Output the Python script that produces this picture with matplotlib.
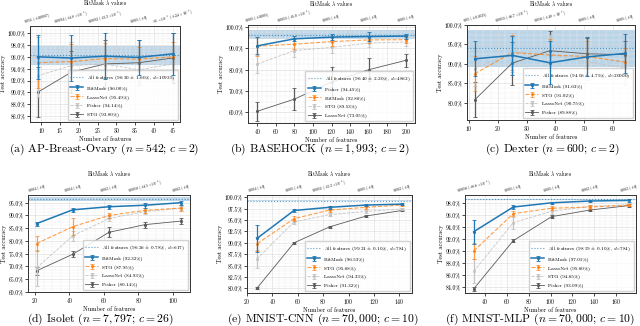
import numpy as np
import matplotlib
matplotlib.use('Agg')
import matplotlib.pyplot as plt
from matplotlib.ticker import PercentFormatter, AutoMinorLocator, MultipleLocator

plt.rcParams['font.family'] = ['cmr10', 'DejaVu Serif']
plt.rcParams['mathtext.fontset'] = 'cm'
plt.rcParams['axes.formatter.use_mathtext'] = True
plt.rcParams['axes.edgecolor'] = '#333333'
plt.rcParams['axes.linewidth'] = 0.6
plt.rcParams['xtick.major.width'] = 0.5
plt.rcParams['ytick.major.width'] = 0.5
plt.rcParams['xtick.major.size'] = 2
plt.rcParams['ytick.major.size'] = 2

#%% data, methods listed in legend order (best first)

a_feats = [9, 18, 27, 36, 45]
a_names = ['BitMask', 'LassoNet', 'Fisher', 'STG']
a_avg = [96.00, 95.49, 94.14, 93.80]
a_mean = [[96.0, 95.8, 96.1, 95.9, 96.5],
          [95.0, 95.2, 95.7, 95.6, 96.0],
          [92.8, 94.5, 94.8, 93.8, 94.8],
          [90.0, 93.4, 94.8, 95.0, 95.8]]
a_err = [[3.7, 3.8, 3.9, 3.0, 3.5],
         [4.3, 3.0, 2.7, 2.0, 2.5],
         [3.5, 4.0, 3.0, 2.5, 2.2],
         [4.2, 3.5, 4.0, 3.8, 4.3]]
a_all = (96.30, 1.60, 10935)
a_lambda = [r'0.051 ($\pm$0.0087)', r'0.0094 ($\pm 4.8\times10^{-3}$)',
            r'0.0092 ($\pm 3.3\times10^{-3}$)', r'0.005 ($\pm$0)',
            r'$8.1\times10^{-3}$ ($\pm 2.4\times10^{-3}$)']

b_feats = [40, 80, 120, 160, 200]
b_names = ['Fisher', 'BitMask', 'STG', 'LassoNet']
b_avg = [94.45, 92.86, 89.53, 73.05]
b_mean = [[91.2, 94.5, 95.3, 95.6, 95.8],
          [91.0, 92.0, 93.2, 94.0, 94.1],
          [82.7, 89.0, 90.5, 92.5, 93.0],
          [60.5, 66.2, 74.2, 80.0, 84.4]]
b_err = [[4.0, 1.2, 1.5, 2.0, 1.2],
         [4.5, 2.5, 2.0, 1.5, 1.5],
         [4.0, 3.0, 2.5, 2.0, 2.0],
         [4.5, 5.0, 7.0, 5.5, 3.0]]
b_all = (96.40, 2.20, 4862)
b_lambda = [r'0.005 ($\pm$0.005)', r'0.0055 ($\pm 5.0\times10^{-4}$)',
            r'0.005 ($\pm$0)', r'0.005 ($\pm$0)', r'0.005 ($\pm$0)']

c_feats = [12, 25, 38, 51, 64]
c_names = ['BitMask', 'STG', 'LassoNet', 'Fisher']
c_avg = [91.63, 91.02, 90.75, 89.88]
c_mean = [[91.3, 92.2, 90.3, 91.8, 92.7],
          [87.5, 92.9, 92.3, 91.9, 90.5],
          [88.8, 93.0, 92.5, 90.5, 89.0],
          [80.8, 90.2, 93.4, 92.6, 92.4]]
c_err = [[4.5, 5.0, 5.5, 5.0, 5.0],
         [4.5, 4.5, 4.0, 4.0, 3.5],
         [4.5, 5.0, 5.0, 4.5, 4.5],
         [4.5, 5.5, 5.0, 4.0, 3.5]]
c_all = (94.06, 4.75, 20000)
c_lambda = [r'0.05 ($\pm$0.0035)', r'0.0055 ($\pm 6.7\times10^{-4}$)',
            r'0.056 ($\pm 4.8\times10^{-3}$)', r'0.005 ($\pm$0)', r'0.005 ($\pm$0)']

d_feats = [21, 42, 63, 84, 105]
d_names = ['BitMask', 'STG', 'LassoNet', 'Fisher']
d_avg = [92.32, 87.95, 84.93, 80.14]
d_mean = [[86.8, 92.2, 93.4, 94.0, 95.0],
          [79.0, 85.6, 90.0, 92.0, 92.9],
          [69.5, 82.0, 88.8, 91.5, 92.8],
          [68.3, 74.8, 83.4, 86.4, 87.8]]
d_err = [[0.8, 0.8, 0.8, 1.0, 0.8],
         [3.0, 3.2, 1.0, 1.0, 1.0],
         [7.0, 2.0, 1.0, 0.8, 0.8],
         [1.5, 1.2, 2.0, 1.2, 1.0]]
d_all = (96.26, 0.78, 617)
d_lambda = [r'0.004 ($\pm$0)', r'0.004 ($\pm$0)', r'0.002 ($\pm$0)',
            r'0.0058 ($\pm 4.5\times10^{-4}$)', r'0.002 ($\pm$0)']

e_feats = [28, 57, 85, 114, 142]
e_names = ['BitMask', 'STG', 'LassoNet', 'Fisher']
e_avg = [96.53, 95.68, 94.33, 91.32]
e_mean = [[91.0, 97.1, 97.8, 98.3, 98.5],
          [89.8, 95.3, 97.2, 97.8, 98.3],
          [86.5, 94.6, 96.2, 96.9, 97.45],
          [80.1, 90.0, 93.5, 95.9, 97.1]]
e_err = [[3.0, 0.3, 0.3, 0.2, 0.2],
         [1.5, 0.5, 0.5, 0.3, 0.2],
         [2.0, 0.5, 0.3, 0.3, 0.2],
         [0.3, 0.2, 0.2, 0.2, 0.2]]
e_all = (99.21, 0.10, 784)
e_lambda = [r'0.004 ($\pm$0)', r'0.005 ($\pm$0)', r'0.0051 ($\pm 3.3\times10^{-4}$)',
            r'0.005 ($\pm$0)', r'0.002 ($\pm$0)']

f_feats = [30, 66, 101, 136, 172]
f_names = ['BitMask', 'LassoNet', 'STG', 'Fisher']
f_avg = [97.01, 95.60, 94.65, 93.09]
f_mean = [[93.2, 97.3, 98.0, 98.3, 98.4],
          [90.0, 96.2, 97.1, 97.3, 97.6],
          [86.6, 94.7, 96.6, 97.4, 97.7],
          [83.7, 91.7, 95.7, 96.8, 97.55]]
f_err = [[2.0, 0.3, 0.2, 0.2, 0.2],
         [1.3, 0.4, 0.3, 0.3, 0.2],
         [2.0, 1.0, 0.5, 0.3, 0.2],
         [0.3, 0.2, 0.2, 0.2, 0.2]]
f_all = (98.59, 0.10, 784)
f_lambda = [r'0.0056 ($\pm 8.6\times10^{-4}$)', r'0.005 ($\pm$0)', r'0.005 ($\pm$0)',
            r'0.002 ($\pm$0)', r'0.002 ($\pm$0)']

captions = [r'(a) AP-Breast-Ovary ($n=542$; $c=2$)',
            r'(b) BASEHOCK ($n=1,993$; $c=2$)',
            r'(c) Dexter ($n=600$; $c=2$)',
            r'(d) Isolet ($n=7,797$; $c=26$)',
            r'(e) MNIST-CNN ($n=70,000$; $c=10$)',
            r'(f) MNIST-MLP ($n=70,000$; $c=10$)']

#%% layout (pixels of a 640x326 figure)

W, H = 640, 326
panels = [
    dict(data=(a_feats, a_names, a_avg, a_mean, a_err, a_all, a_lambda),
         box=(30, 180, 26, 122), xlim=(7, 47), xstep=5, ylim=(85, 101.2), ystep=2, cap=(104, 149)),
    dict(data=(b_feats, b_names, b_avg, b_mean, b_err, b_all, b_lambda),
         box=(248, 415, 25, 123), xlim=(30, 210), xstep=20, ylim=(55, 101), ystep=10, cap=(320, 149)),
    dict(data=(c_feats, c_names, c_avg, c_mean, c_err, c_all, c_lambda),
         box=(467, 635, 25, 120), xlim=(9.3, 67.6), xstep=10, ylim=(75.6, 100), ystep=5, cap=(553, 149)),
    dict(data=(d_feats, d_names, d_avg, d_mean, d_err, d_all, d_lambda),
         box=(28, 190, 195, 292), xlim=(16, 110), xstep=20, ylim=(60, 98), ystep=5, cap=(100, 319)),
    dict(data=(e_feats, e_names, e_avg, e_mean, e_err, e_all, e_lambda),
         box=(247, 412, 195, 293), xlim=(20, 150), xstep=20, ylim=(79, 100.5), ystep=2.5, cap=(323, 319)),
    dict(data=(f_feats, f_names, f_avg, f_mean, f_err, f_all, f_lambda),
         box=(465, 636, 195, 293), xlim=(22, 178), xstep=20, ylim=(83, 99.3), ystep=2, cap=(540, 319)),
]

colors = ['#1f77b4', '#ff7f0e', '#c4c4c4', '#5a5a5a']
styles = ['-', '--', '--', '-']
widths = [1.1, 0.8, 0.6, 0.6]
alphas = [1.0, 0.75, 1.0, 1.0]

fig = plt.figure(figsize=(W / 100, H / 100), dpi=100)

for k, p in enumerate(panels):
    feats, names, avg, mean, err, allf, lam = p['data']
    l, r, t, b = p['box']
    ax = fig.add_axes([l / W, 1 - b / H, (r - l) / W, (b - t) / H])

    m_all, s_all, d_all_ = allf
    ax.axhspan(m_all - s_all, m_all + s_all, color='#1f77b4', alpha=0.3, lw=0, zorder=0)
    ax.axhline(m_all, color='#1f77b4', ls=':', lw=0.8, alpha=0.7,
               label=r'All features (%.2f $\pm$ %.2f%%, $d$=%d)' % (m_all, s_all, d_all_))

    for i in range(4):
        ax.errorbar(feats, mean[i], yerr=err[i], color=colors[i], ls=styles[i], lw=widths[i],
                    alpha=alphas[i], marker='.', ms=2.5, elinewidth=0.9, capsize=1.2,
                    capthick=0.6, label='%s (%.2f%%)' % (names[i], avg[i]), zorder=3 + (3 - i))

    ax.set_xlim(p['xlim'])
    ax.set_ylim(p['ylim'])
    ax.xaxis.set_major_locator(MultipleLocator(p['xstep']))
    ax.yaxis.set_major_locator(MultipleLocator(p['ystep']))
    ax.xaxis.set_minor_locator(AutoMinorLocator(4))
    ax.yaxis.set_minor_locator(AutoMinorLocator(4))
    ax.yaxis.set_major_formatter(PercentFormatter(decimals=1))
    ax.grid(which='major', color='#d8d8d8', lw=0.4)
    ax.grid(which='minor', color='#ececec', lw=0.3)
    ax.tick_params(labelsize=4.1, pad=1.2)
    ax.tick_params(which='minor', length=0)
    ax.set_xlabel('Number of features', fontsize=4.5, labelpad=0.3)
    ax.set_ylabel('Test accuracy', fontsize=4.5, labelpad=1)

    ax.legend(loc='lower right', fontsize=3.7, framealpha=0.85, edgecolor='#cccccc',
              borderpad=0.5, labelspacing=0.75, handlelength=2.5, fancybox=False,
              borderaxespad=0.4)

    ax2 = ax.twiny()
    ax2.set_xlim(ax.get_xlim())
    ax2.set_xticks(feats)
    ax2.set_xticklabels(lam, rotation=15, fontsize=2.7, ha='center')
    ax2.tick_params(axis='x', length=0, pad=0.3)
    ax2.set_xlabel(r'BitMask $\lambda$ values', fontsize=4.0, labelpad=0.8)

    fig.text(p['cap'][0] / W, 1 - p['cap'][1] / H, captions[k], fontsize=8.4,
             ha='center', va='center')

plt.savefig('out.png', dpi=100)
